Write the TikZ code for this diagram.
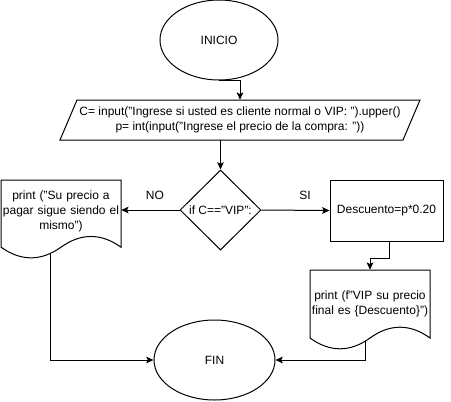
\documentclass[tikz,border=0pt]{standalone}
\usepackage{fontspec}
\setmainfont{Liberation Sans}
\usetikzlibrary{shapes.geometric,arrows.meta}
\begin{document}
\begin{tikzpicture}[x=0.75pt,y=-0.75pt,
  every node/.style={font=\fontsize{9pt}{11.25pt}\selectfont, inner sep=0pt, align=center},
  line/.style={line width=0.75pt, draw=black},
  arr/.style={line, -{Stealth[length=5.5pt,width=5pt,inset=1.2pt]}},
  oval/.style={ellipse, line, minimum height=60pt},
  doctext/.style={text width=88pt},
  lbl/.style={font=\fontsize{9pt}{11pt}\selectfont}
]
\path[use as bounding box, fill=white] (0,0) rectangle (451,401);

% start / end
\node[oval, minimum width=88.5pt] (ini) at (219,40) {INICIO};
\node[oval, minimum width=90.75pt] (fin) at (214.5,360) {FIN};

% input parallelogram
\node[minimum width=270pt, minimum height=30pt] (inp) at (240,120)
  {C= input("Ingrese si usted es cliente normal o VIP: ").upper()\\
   p= int(input("Ingrese el precio de la compra: "))};
\draw[line] (77,100) -- (420,100) -- (403,140) -- (60,140) -- cycle;

% decision
\node[diamond, line, minimum width=60.75pt, minimum height=60pt] (dec) at (220.5,210) {};
\node at (dec.center) {if C=="VIP":};

% process
\node[rectangle, line, minimum width=84.75pt, minimum height=45.75pt] (desc) at (386.5,210.5) {Descuento=p*0.20};

% left document
\node[minimum width=90pt, minimum height=59.25pt] (ldoc) at (61,219.5) {};
\draw[line] (1,180) -- (121,180) -- (121,247.15)
  .. controls (101,232.9) and (81,232.9) .. (61,247.15)
  .. controls (41,261.4) and (21,261.4) .. (1,247.15) -- cycle;
\node[doctext] (ltxt) at (61,211) {print ("Su precio a\\pagar sigue siendo el\\mismo")};
\coordinate (lout) at (50,253.5);

% right document
\node[minimum width=90pt, minimum height=60pt] (rdoc) at (370,310) {};
\draw[line] (310,270) -- (430,270) -- (430,338)
  .. controls (410,323.6) and (390,323.6) .. (370,338)
  .. controls (350,352.4) and (330,352.4) .. (310,338) -- cycle;
\node[doctext] (rtxt) at (370,303.5) {print (f"VIP su precio\\final es \{Descuento\}")};
\coordinate (rout) at (365,341.3);

% connectors
\draw[arr] (ini.south) -| (inp.north);
\draw[arr] (dec.north |- inp.south) -- (dec.north);
\draw[arr] (dec.west) -- (dec.west -| ldoc.east);
\draw[arr] (dec.east) -- (desc.west);
\draw[arr] ([xshift=2.6pt]desc.south) -- ++(0,17) -| (rdoc.north);
\draw[arr] (lout) |- (fin.west);
\draw[arr] (rout) |- (fin.east);

% labels
\node[lbl] (no) at (155,195) {NO};
\node[lbl] (si) at (305,195) {SI};
\end{tikzpicture}
\end{document}
